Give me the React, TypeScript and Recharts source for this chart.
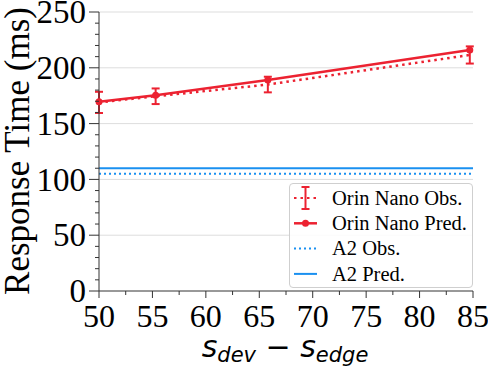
import React from 'react';
import { LineChart, Line, XAxis, YAxis, CartesianGrid, ReferenceLine, ErrorBar } from 'recharts';

// values
const sizeDiff = [50, 55.3, 65.8, 84.7];
const orinObs = [169, 174.5, 185, 211.5];
const orinObsErr = [9.5, 7, 7, 7.7];
const orinPred = [169.5, 175.5, 189, 216];
const a2Obs = 105;
const a2Pred = 110;

const xTicks = [50, 52.5, 55, 57.5, 60, 62.5, 65, 67.5, 70, 72.5, 75, 77.5, 80, 82.5, 85];
const xMajor = [50, 55, 60, 65, 70, 75, 80, 85];
const yTicks = Array.from({ length: 26 }, (_, i) => i * 10);
const yMajor = [0, 50, 100, 150, 200, 250];

const RED = '#ec2231';
const BLUE = '#1a90f0';

const legendItems = [
  { label: 'Orin Nano Obs.', color: RED, kind: 'obs' },
  { label: 'Orin Nano Pred.', color: RED, kind: 'pred' },
  { label: 'A2 Obs.', color: BLUE, kind: 'dotted' },
  { label: 'A2 Pred.', color: BLUE, kind: 'solid' },
];

const data = sizeDiff.map((x, i) => ({ x, obs: orinObs[i], err: orinObsErr[i], pred: orinPred[i] }));

const serif = '"Liberation Serif", "Times New Roman", serif';
const serifStyle = { fontFamily: serif };

function XTick(props: any) {
  const { x, y, payload } = props;
  const major = xMajor.includes(payload.value);
  return (
    <g>
      <line x1={x} x2={x} y1={y} y2={y + (major ? 7 : 4)} stroke="#333" strokeWidth={1} />
      {major && (
        <text x={x} y={y + 36} textAnchor="middle" style={serifStyle} fontSize={32} fill="#000">
          {payload.value}
        </text>
      )}
    </g>
  );
}

function YTick(props: any) {
  const { x, y, payload } = props;
  const major = yMajor.includes(payload.value);
  return (
    <g>
      <line x1={x} x2={x - (major ? 10 : 4)} y1={y} y2={y} stroke="#333" strokeWidth={1} />
      {major && (
        <text x={x - 13} y={y} dy="0.34em" textAnchor="end" style={serifStyle} fontSize={33} fill="#000">
          {payload.value}
        </text>
      )}
    </g>
  );
}

function LegendBox() {
  return (
    <div
      style={{
        position: 'absolute', left: 289, top: 183, width: 182, height: 103,
        border: '1px solid #cfcfcf', borderRadius: 4, background: 'rgba(255,255,255,0.85)',
      }}
    >
      <svg width={182} height={103}>
        {legendItems.map((it, i) => {
          const cy = 14 + i * 25.3;
          return (
            <g key={it.label}>
              {it.kind === 'obs' && (
                <g stroke={it.color} strokeWidth={2}>
                  <line x1={4} x2={27} y1={cy} y2={cy} strokeDasharray="2.5 4" />
                  <line x1={15.5} x2={15.5} y1={cy - 11} y2={cy + 11} />
                  <line x1={11.5} x2={19.5} y1={cy - 11} y2={cy - 11} />
                  <line x1={11.5} x2={19.5} y1={cy + 11} y2={cy + 11} />
                </g>
              )}
              {it.kind === 'pred' && (
                <g>
                  <line x1={4} x2={27} y1={cy} y2={cy} stroke={it.color} strokeWidth={2.5} />
                  <circle cx={15.5} cy={cy} r={3.5} fill={it.color} />
                </g>
              )}
              {it.kind === 'dotted' && (
                <line x1={4} x2={27} y1={cy} y2={cy} stroke={it.color} strokeWidth={2} strokeDasharray="2 3" />
              )}
              {it.kind === 'solid' && (
                <line x1={4} x2={27} y1={cy} y2={cy} stroke={it.color} strokeWidth={2} />
              )}
              <text x={42} y={cy} dy="0.33em" style={serifStyle} fontSize={20.5} fill="#000">
                {it.label}
              </text>
            </g>
          );
        })}
      </svg>
    </div>
  );
}

export default function App() {
  return (
    <div style={{ position: 'absolute', left: 0, top: 0, width: 488, height: 370, background: '#fff' }}>
      <LineChart width={488} height={370} data={data} margin={{ top: 12, right: 15, left: 0, bottom: 0 }}>
        <CartesianGrid vertical={false} horizontalValues={[50, 100, 150, 200, 250]} stroke="#dddddd" strokeWidth={1} />
        <XAxis
          dataKey="x"
          type="number"
          domain={[50, 85]}
          ticks={xTicks}
          interval={0}
          height={79}
          tickSize={0}
          tickMargin={0}
          tickLine={false}
          axisLine={{ stroke: '#333', strokeWidth: 1 }}
          tick={<XTick />}
        />
        <YAxis
          type="number"
          domain={[0, 250]}
          ticks={yTicks}
          interval={0}
          width={99}
          tickSize={0}
          tickMargin={0}
          tickLine={false}
          axisLine={{ stroke: '#333', strokeWidth: 1 }}
          tick={<YTick />}
        />
        <ReferenceLine y={a2Obs} stroke={BLUE} strokeWidth={2} strokeDasharray="2 3" />
        <ReferenceLine y={a2Pred} stroke={BLUE} strokeWidth={2} />
        <Line dataKey="obs" stroke={RED} strokeWidth={2.5} strokeDasharray="2.5 4" dot={false} isAnimationActive={false}>
          <ErrorBar dataKey="err" direction="y" width={4} stroke={RED} strokeWidth={2} isAnimationActive={false} />
        </Line>
        <Line
          dataKey="pred"
          stroke={RED}
          strokeWidth={2.5}
          dot={{ r: 3.5, fill: RED, stroke: RED, strokeWidth: 0 }}
          isAnimationActive={false}
        />
      </LineChart>
      <svg width={488} height={370} style={{ position: 'absolute', left: 0, top: 0, pointerEvents: 'none' }}>
        <text
          transform="translate(29,151) rotate(-90)"
          textAnchor="middle"
          style={serifStyle}
          fontSize={35}
          fill="#000"
        >
          Response Time (ms)
        </text>
        <text
          x={285}
          y={357}
          textAnchor="middle"
          style={{ fontFamily: '"DejaVu Sans", sans-serif' }}
          fontStyle="italic"
          fontSize={30}
          fill="#000"
        >
          s<tspan fontSize={21} dy={5}>dev</tspan>
          <tspan fontStyle="normal" dy={-5}> − </tspan>
          s<tspan fontSize={21} dy={5}>edge</tspan>
        </text>
      </svg>
      <LegendBox />
    </div>
  );
}
